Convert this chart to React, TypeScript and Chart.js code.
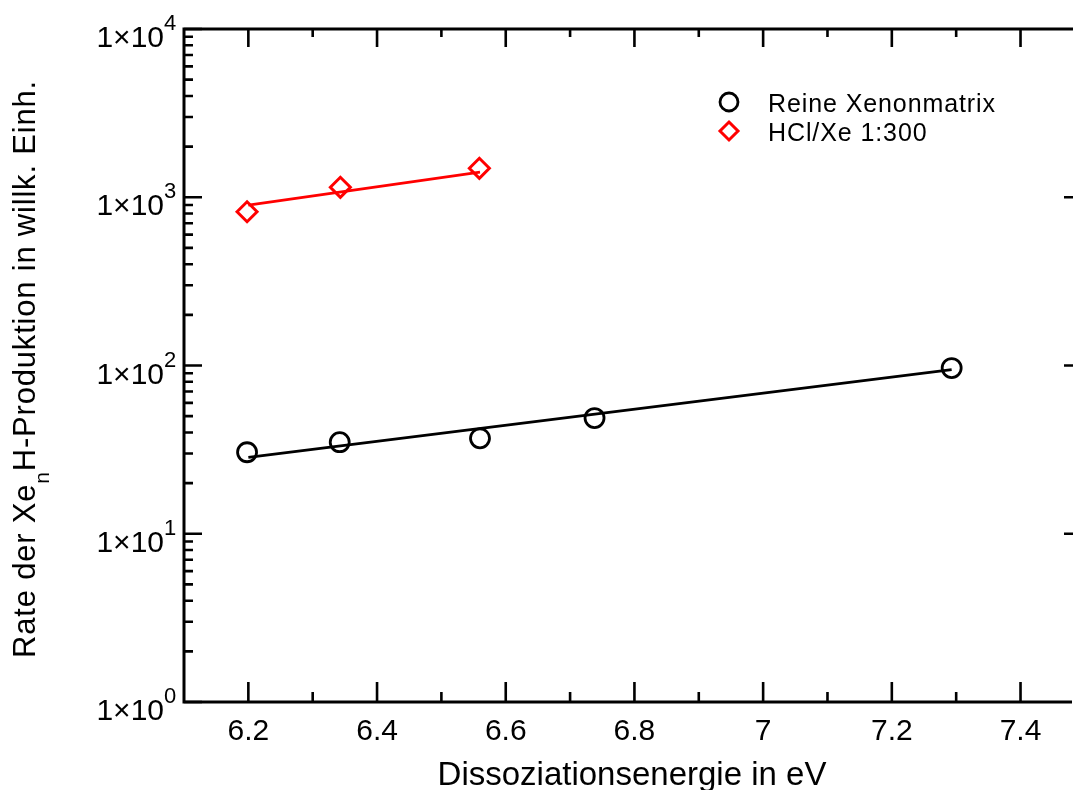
import React, { useEffect, useRef } from 'react';
import { Chart, registerables } from 'chart.js';

Chart.register(...registerables);

const FONT = '"Liberation Sans", Arial, Helvetica, sans-serif';

// axis ranges
const xMin = 6.1;
const xMax = 7.48;
const yMin = 1;
const yMax = 10000;

// ticks
const xTickValues = [6.2, 6.4, 6.6, 6.8, 7.0, 7.2, 7.4];
const xTickLabels = ['6.2', '6.4', '6.6', '6.8', '7', '7.2', '7.4'];
const xMinorTickValues = [6.3, 6.5, 6.7, 6.9, 7.1, 7.3];
const yDecadeExponents = [0, 1, 2, 3, 4];
const yTickMantissa = '1×10';

// data: pure xenon matrix
const pureXeEnergy = [6.198, 6.342, 6.56, 6.738, 7.293];
const pureXeRate = [30.5, 35.0, 36.9, 48.7, 96.6];
// data: HCl/Xe 1:300
const hclEnergy = [6.198, 6.343, 6.559];
const hclRate = [820, 1146, 1486];
// fit lines
const pureFitEnergy = [6.2, 7.293];
const pureFitRate = [28.4, 94.4];
const hclFitEnergy = [6.2, 6.56];
const hclFitRate = [899, 1411];

const seriesLabels = ['Reine Xenonmatrix', 'HCl/Xe 1:300'];
const xTitle = 'Dissoziationsenergie in eV';
const yTitleMain = 'Rate der Xe';
const yTitleSub = 'n';
const yTitleRest = 'H-Produktion in willk. Einh.';

const toPoints = (xs: number[], ys: number[]) => xs.map((x, i) => ({ x, y: ys[i] }));

const decorPlugin = {
  id: 'decor',
  afterDraw(chart: any) {
    const ctx: CanvasRenderingContext2D = chart.ctx;
    const ca = chart.chartArea;
    const xs = chart.scales.x;
    const ys = chart.scales.y;
    const W = chart.width;
    ctx.save();
    ctx.strokeStyle = '#000';
    ctx.fillStyle = '#000';
    ctx.lineCap = 'butt';

    // spines
    ctx.lineWidth = 3;
    ctx.beginPath();
    ctx.moveTo(ca.left, ca.top - 1.5);
    ctx.lineTo(ca.left, ca.bottom + 1.5);
    ctx.moveTo(ca.left - 1.5, ca.bottom);
    ctx.lineTo(ca.right, ca.bottom);
    ctx.moveTo(ca.left - 1.5, ca.top);
    ctx.lineTo(W, ca.top);
    ctx.stroke();

    // ticks
    ctx.lineWidth = 2.6;
    ctx.beginPath();
    xTickValues.forEach((v) => {
      const px = xs.getPixelForValue(v);
      ctx.moveTo(px, ca.bottom);
      ctx.lineTo(px, ca.bottom - 20);
      ctx.moveTo(px, ca.top);
      ctx.lineTo(px, ca.top + 18);
    });
    xMinorTickValues.forEach((v) => {
      const px = xs.getPixelForValue(v);
      ctx.moveTo(px, ca.bottom);
      ctx.lineTo(px, ca.bottom - 10);
      ctx.moveTo(px, ca.top);
      ctx.lineTo(px, ca.top + 8);
    });
    yDecadeExponents.forEach((e) => {
      const py = ys.getPixelForValue(Math.pow(10, e));
      ctx.moveTo(ca.left, py);
      ctx.lineTo(ca.left + 18, py);
      if (e > 0 && e < 4) {
        ctx.moveTo(W - 9, py);
        ctx.lineTo(W, py);
      }
      if (e < 4) {
        for (let m = 2; m <= 9; m++) {
          const pm = ys.getPixelForValue(m * Math.pow(10, e));
          ctx.moveTo(ca.left, pm);
          ctx.lineTo(ca.left + 9, pm);
        }
      }
    });
    ctx.stroke();

    // x tick labels
    ctx.font = `30px ${FONT}`;
    ctx.textAlign = 'center';
    ctx.textBaseline = 'alphabetic';
    xTickValues.forEach((v, i) => {
      ctx.fillText(xTickLabels[i], xs.getPixelForValue(v), 740);
    });

    // y tick labels with superscript exponent
    yDecadeExponents.forEach((e) => {
      const py = ys.getPixelForValue(Math.pow(10, e));
      const sup = String(e);
      ctx.textAlign = 'left';
      ctx.font = `22px ${FONT}`;
      const m = ctx.measureText(sup);
      const supX = 176 - m.actualBoundingBoxRight;
      ctx.fillText(sup, supX, py + 1);
      ctx.font = `30px ${FONT}`;
      ctx.textAlign = 'right';
      ctx.fillText(yTickMantissa, supX, py + 18);
    });

    // x title
    ctx.font = `33px ${FONT}`;
    ctx.textAlign = 'center';
    ctx.fillText(xTitle, (ca.left + ca.right) / 2 + 4, 785);

    // y title (rotated, with subscript)
    ctx.save();
    ctx.translate(35, 369);
    ctx.rotate(-Math.PI / 2);
    (ctx as any).letterSpacing = '0.8px';
    ctx.textAlign = 'left';
    ctx.font = `31px ${FONT}`;
    const w1 = ctx.measureText(yTitleMain).width;
    const w3 = ctx.measureText(yTitleRest).width;
    ctx.font = `21px ${FONT}`;
    const w2 = ctx.measureText(yTitleSub).width;
    const total = w1 + w2 + w3;
    let cx = -total / 2;
    ctx.font = `31px ${FONT}`;
    ctx.fillText(yTitleMain, cx, 0);
    cx += w1;
    ctx.font = `21px ${FONT}`;
    ctx.fillText(yTitleSub, cx, 14);
    cx += w2;
    ctx.font = `31px ${FONT}`;
    ctx.fillText(yTitleRest, cx, 0);
    ctx.restore();

    // legend
    ctx.lineWidth = 2.8;
    ctx.strokeStyle = '#000';
    ctx.beginPath();
    ctx.arc(729, 102, 9, 0, Math.PI * 2);
    ctx.stroke();
    ctx.strokeStyle = '#ff0000';
    ctx.lineWidth = 3;
    ctx.lineJoin = 'miter';
    ctx.beginPath();
    ctx.moveTo(729, 131 - 9);
    ctx.lineTo(729 + 9, 131);
    ctx.lineTo(729, 131 + 9);
    ctx.lineTo(729 - 9, 131);
    ctx.closePath();
    ctx.stroke();
    (ctx as any).letterSpacing = '0.9px';
    ctx.font = `25px ${FONT}`;
    ctx.textAlign = 'left';
    ctx.fillStyle = '#000';
    ctx.fillText(seriesLabels[0], 768, 111.5);
    ctx.fillText(seriesLabels[1], 768, 140.5);
    (ctx as any).letterSpacing = '0px';

    ctx.restore();
  },
};

export default function App() {
  const canvasRef = useRef<HTMLCanvasElement | null>(null);

  useEffect(() => {
    const canvas = canvasRef.current;
    if (!canvas) return;
    const chart = new Chart(canvas, {
      type: 'scatter',
      data: {
        datasets: [
          {
            label: seriesLabels[0],
            data: toPoints(pureXeEnergy, pureXeRate),
            showLine: false,
            pointStyle: 'circle',
            pointRadius: 9.5,
            pointBorderWidth: 2.8,
            borderColor: '#000',
            backgroundColor: 'rgba(0,0,0,0)',
          },
          {
            label: seriesLabels[1],
            data: toPoints(hclEnergy, hclRate),
            showLine: false,
            pointStyle: 'rectRot',
            pointRadius: 10,
            pointBorderWidth: 3,
            borderColor: '#ff0000',
            backgroundColor: 'rgba(0,0,0,0)',
          },
          {
            label: 'fit pure',
            data: toPoints(pureFitEnergy, pureFitRate),
            showLine: true,
            pointRadius: 0,
            borderWidth: 2.8,
            borderColor: '#000',
            backgroundColor: '#000',
          },
          {
            label: 'fit hcl',
            data: toPoints(hclFitEnergy, hclFitRate),
            showLine: true,
            pointRadius: 0,
            borderWidth: 2.8,
            borderColor: '#ff0000',
            backgroundColor: '#ff0000',
          },
        ],
      },
      options: {
        responsive: false,
        animation: false,
        devicePixelRatio: 1,
        layout: { autoPadding: false, padding: { left: 0, top: 29, right: 1, bottom: 0 } },
        plugins: {
          legend: { display: false },
          tooltip: { enabled: false },
          title: { display: false },
        },
        scales: {
          x: {
            type: 'linear',
            min: xMin,
            max: xMax,
            grid: { display: false },
            border: { display: false },
            ticks: { display: false },
            afterFit: (s: any) => {
              s.height = 88;
              s.paddingLeft = 0;
              s.paddingRight = 0;
            },
          },
          y: {
            type: 'logarithmic',
            min: yMin,
            max: yMax,
            grid: { display: false },
            border: { display: false },
            ticks: { display: false },
            afterFit: (s: any) => {
              s.width = 184;
            },
          },
        },
      } as any,
      plugins: [decorPlugin],
    });
    return () => chart.destroy();
  }, []);

  return (
    <div style={{ position: 'fixed', left: 0, top: 0, width: 1073, height: 790, background: '#fff' }}>
      <canvas ref={canvasRef} width={1073} height={790} style={{ display: 'block' }} />
    </div>
  );
}
